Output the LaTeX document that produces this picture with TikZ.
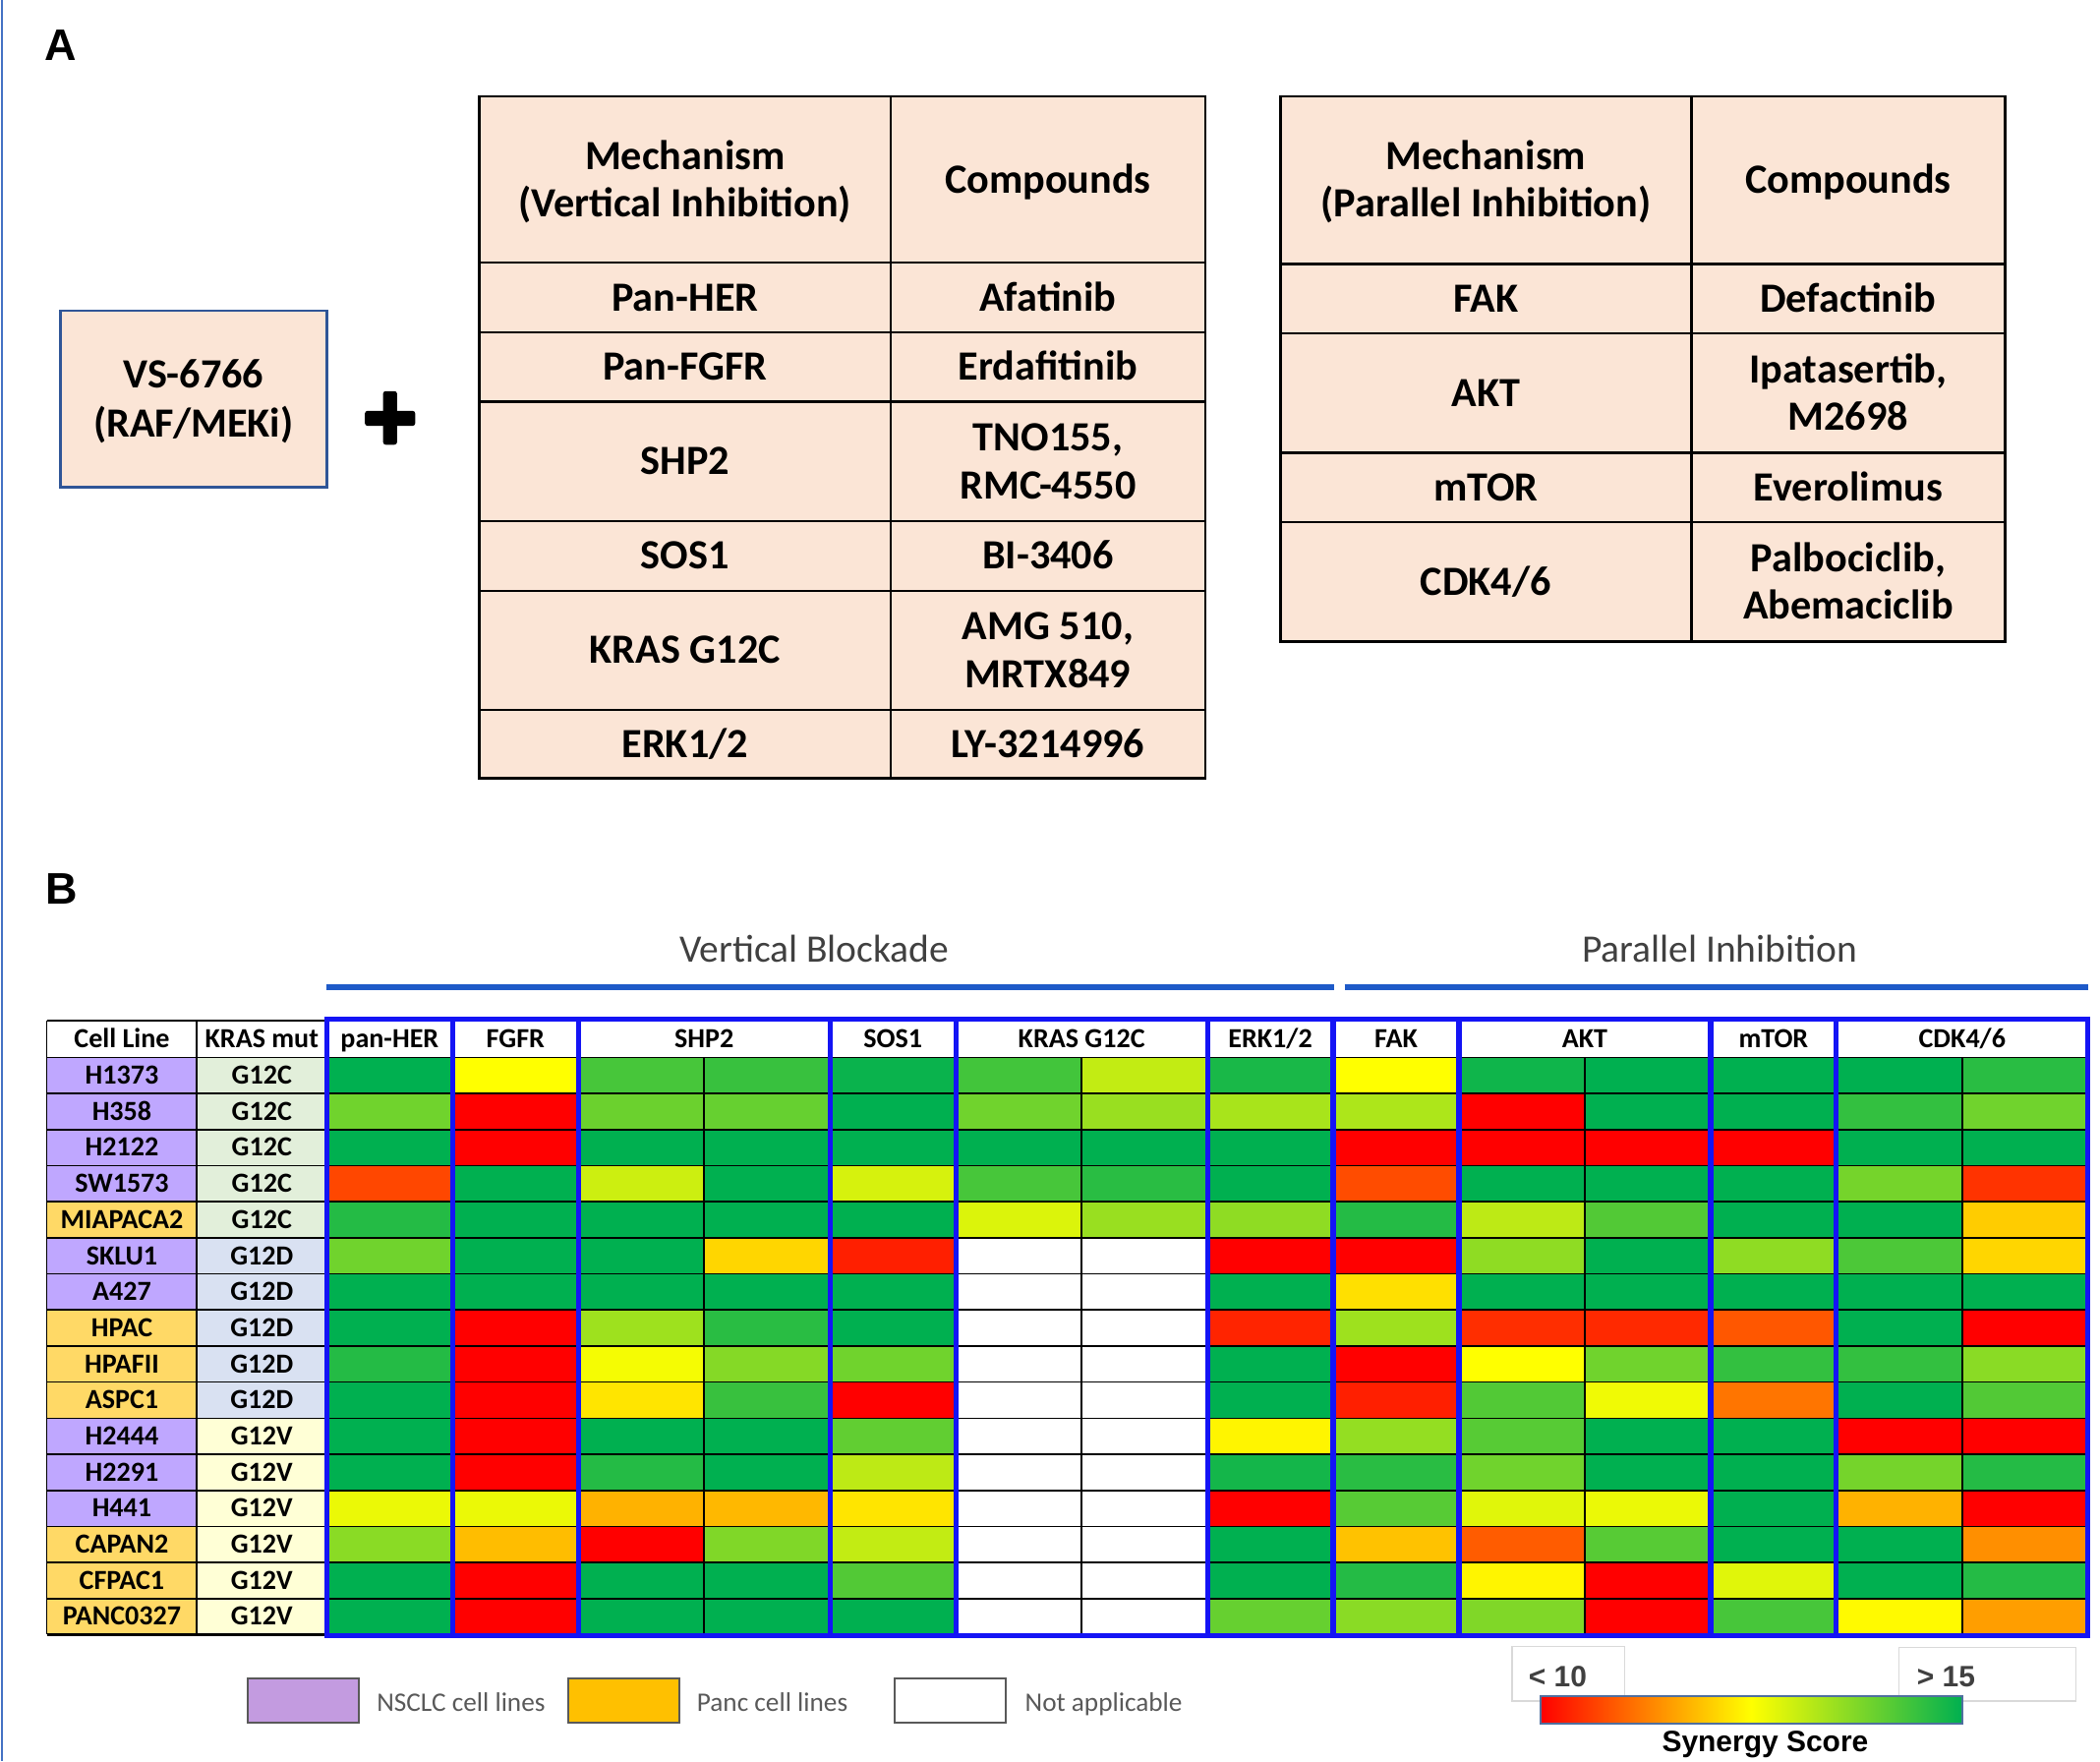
\documentclass[tikz,border=0pt]{standalone}
\usepackage{fontspec}
\setmainfont{Carlito}
\newfontfamily\arialf{Liberation Sans}
\usetikzlibrary{calc}
\definecolor{peach}{HTML}{FBE5D6}
\definecolor{vsblue}{HTML}{2F5597}
\definecolor{edgeblue}{HTML}{4472C4}
\definecolor{hdrblue}{RGB}{30,90,200}
\definecolor{frameblue}{RGB}{20,20,245}
\definecolor{nsclc}{RGB}{191,167,255}
\definecolor{panc}{HTML}{FFD966}
\definecolor{gc}{HTML}{E2EFDA}
\definecolor{gd}{HTML}{D9E1F2}
\definecolor{gv}{HTML}{FFFFD6}
\definecolor{lgpurple}{RGB}{195,155,224}
\definecolor{lgorange}{HTML}{FFC000}
\definecolor{lgborder}{HTML}{595959}
\definecolor{sred}{HTML}{FF0000}
\definecolor{syel}{HTML}{FFFF00}
\definecolor{sgrn}{HTML}{00B050}
\definecolor{txtgray}{HTML}{404040}
\definecolor{lgtxt}{HTML}{595959}
\definecolor{scaleborder}{HTML}{4F6F9F}
\definecolor{boxgray}{HTML}{D9D9D9}
\tikzset{
  tabtxt/.style={font=\bfseries\fontsize{15.5}{17.7}\selectfont, anchor=base, inner sep=0pt},
  hmtxt/.style={font=\bfseries\fontsize{10.3}{12}\selectfont, anchor=base, inner sep=0pt},
  headtxt/.style={font=\fontsize{14.5}{17}\selectfont, text=txtgray, anchor=base, inner sep=0pt},
  lgtext/.style={font=\fontsize{10}{12}\selectfont, text=lgtxt, anchor=base west, inner sep=0pt},
  lgbox/.style={draw=lgborder, line width=0.8pt},
  tabline/.style={draw=black, line width=0.9pt},
  gridline/.style={draw=black, line width=0.6pt},
  groupframe/.style={draw=frameblue, line width=1.9pt},
  headline/.style={draw=hdrblue, line width=2.3pt},
  panellabel/.style={font=\arialf\bfseries\fontsize{16.5}{19}\selectfont, anchor=base west, inner sep=0pt},
  scaletxt/.style={font=\arialf\bfseries\fontsize{11}{13}\selectfont, anchor=base west, inner sep=0pt, text=txtgray},
}
\begin{document}
\begin{tikzpicture}[x=0.5pt,y=-0.5pt]
\useasboundingbox (0,0) rectangle (1568,1315);
% left edge line
\draw[edgeblue, line width=0.8pt] (1.5,0) -- (1.5,1315);
% panel labels
\node[panellabel] (labA) at (33,45) {A};
\node[panellabel] (labB) at (34,675) {B};
% VS-6766 box
\filldraw[fill=peach, draw=vsblue, line width=1pt] (45,232) rectangle (244,364);
\node[tabtxt] (vs1) at (144.5,289.5) {VS-6766};
\node[tabtxt] (vs2) at (144.5,326.5) {(RAF/MEKi)};
% plus sign
\fill[rounded corners=1pt] (272.5,306.7) rectangle (310,318);
\fill[rounded corners=1pt] (286,292) rectangle (296.5,332);
% vertical inhibition table
\fill[peach] (358,72) rectangle (900,581);
\draw[tabline] (358,72) rectangle (900,581);
\draw[tabline] (665,72) -- (665,581);
\foreach \yy in {196,248,300,389,441,530} \draw[tabline] (358,\yy) -- (900,\yy);
\node[tabtxt] (vmh1) at (511.5,126.3) {Mechanism};
\node[tabtxt] (vmh2) at (511.5,161.7) {(Vertical Inhibition)};
\node[tabtxt] (vch) at (782.5,144) {Compounds};
\node[tabtxt] (vm1) at (511.5,232) {Pan-HER};
\node[tabtxt] (vc1) at (782.5,232) {Afatinib};
\node[tabtxt] (vm2) at (511.5,284) {Pan-FGFR};
\node[tabtxt] (vc2) at (782.5,284) {Erdafitinib};
\node[tabtxt] (vm3) at (511.5,354.5) {SHP2};
\node[tabtxt] (vc3a) at (782.5,336.8) {TNO155,};
\node[tabtxt] (vc3b) at (782.5,372.2) {RMC-4550};
\node[tabtxt] (vm4) at (511.5,425) {SOS1};
\node[tabtxt] (vc4) at (782.5,425) {BI-3406};
\node[tabtxt] (vm5) at (511.5,495.5) {KRAS G12C};
\node[tabtxt] (vc5a) at (782.5,477.8) {AMG 510,};
\node[tabtxt] (vc5b) at (782.5,513.2) {MRTX849};
\node[tabtxt] (vm6) at (511.5,565.5) {ERK1/2};
\node[tabtxt] (vc6) at (782.5,565.5) {LY-3214996};
% parallel inhibition table
\fill[peach] (956,72) rectangle (1497,479);
\draw[tabline] (956,72) rectangle (1497,479);
\draw[tabline] (1263,72) -- (1263,479);
\foreach \yy in {197,249,338,390} \draw[tabline] (956,\yy) -- (1497,\yy);
\node[tabtxt] (pmh1) at (1109.5,126.8) {Mechanism};
\node[tabtxt] (pmh2) at (1109.5,162.2) {(Parallel Inhibition)};
\node[tabtxt] (pch) at (1380,144.5) {Compounds};
\node[tabtxt] (pm1) at (1109.5,233) {FAK};
\node[tabtxt] (pc1) at (1380,233) {Defactinib};
\node[tabtxt] (pm2) at (1109.5,303.5) {AKT};
\node[tabtxt] (pc2a) at (1380,285.8) {Ipatasertib,};
\node[tabtxt] (pc2b) at (1380,321.2) {M2698};
\node[tabtxt] (pm3) at (1109.5,374) {mTOR};
\node[tabtxt] (pc3) at (1380,374) {Everolimus};
\node[tabtxt] (pm4) at (1109.5,444.5) {CDK4/6};
\node[tabtxt] (pc4a) at (1380,426.8) {Palbociclib,};
\node[tabtxt] (pc4b) at (1380,462.2) {Abemaciclib};
% panel B headings
\node[headtxt] (vbh) at (608,718) {Vertical Blockade};
\node[headtxt] (pih) at (1284,718) {Parallel Inhibition};
\draw[headline] (244,737) -- (996,737);
\draw[headline] (1004,737) -- (1559,737);
% heatmap cells
\foreach \rowvals [count=\r from 0] in {
 {100,50,86,89,98,87,62,95,50,97,100,100,100,92},
 {78,0,79,80,100,78,70,67,66,0,100,100,90,78},
 {100,0,100,100,100,100,100,100,0,0,0,0,100,100},
 {14,100,60,100,58,86,92,100,15,100,100,100,77,10},
 {93,100,100,100,100,57,70,72,93,63,84,100,100,40},
 {78,100,100,42,6,-1,-1,0,0,72,100,72,85,42},
 {100,100,100,100,100,-1,-1,100,44,100,100,100,100,100},
 {100,0,69,92,100,-1,-1,7,69,9,8,17,100,0},
 {93,0,52,74,78,-1,-1,100,0,50,78,90,90,73},
 {100,0,45,89,0,-1,-1,100,6,84,53,23,100,84},
 {100,0,100,100,81,-1,-1,48,71,83,100,100,0,0},
 {100,0,93,100,63,-1,-1,96,92,78,100,100,77,93},
 {54,54,35,36,45,-1,-1,0,83,56,54,100,35,0},
 {73,37,0,75,62,-1,-1,100,38,18,83,100,100,28},
 {100,0,100,100,84,-1,-1,100,93,48,0,56,100,93},
 {100,0,100,100,100,-1,-1,80,73,75,0,86,49,31}} {
  \foreach \v [count=\c from 0] in \rowvals {
    \pgfmathsetmacro\xa{244+93.93*\c}
    \pgfmathsetmacro\ya{789.5+26.93*\r}
    \ifnum\v<0 \def\cc{white}\else
      \ifnum\v<50 \pgfmathtruncatemacro\pp{2*\v}\edef\cc{syel!\pp!sred}%
      \else \pgfmathtruncatemacro\pp{2*\v-100}\edef\cc{sgrn!\pp!syel}\fi
    \fi
    \fill[fill=\cc] (\xa,\ya) rectangle ++(93.93,26.93);
  }
}
% left columns
\foreach \nm/\cl/\mu/\mc [count=\r from 0] in {
 H1373/nsclc/G12C/gc, H358/nsclc/G12C/gc, H2122/nsclc/G12C/gc, SW1573/nsclc/G12C/gc,
 MIAPACA2/panc/G12C/gc, SKLU1/nsclc/G12D/gd, A427/nsclc/G12D/gd, HPAC/panc/G12D/gd,
 HPAFII/panc/G12D/gd, ASPC1/panc/G12D/gd, H2444/nsclc/G12V/gv, H2291/nsclc/G12V/gv,
 H441/nsclc/G12V/gv, CAPAN2/panc/G12V/gv, CFPAC1/panc/G12V/gv, PANC0327/panc/G12V/gv} {
  \pgfmathsetmacro\ya{789.5+26.93*\r}
  \fill[fill=\cl] (35,\ya) rectangle ++(112,26.93);
  \fill[fill=\mc] (147,\ya) rectangle ++(97,26.93);
  \node[hmtxt] (cl\r) at (91,\ya+19.9) {\nm};
  \node[hmtxt] (km\r) at (195.5,\ya+19.9) {\mu};
}
% grid
\foreach \r in {0,...,16} \draw[gridline] (35,789.5+26.93*\r) -- (1559,789.5+26.93*\r);
\draw[gridline] (35,762) -- (244,762);
\draw[gridline] (35,762) -- (35,1220.4);
\draw[gridline] (147,762) -- (147,1220.4);
\foreach \k in {3,6,10,13} \draw[gridline] (244+93.93*\k,789.5) -- (244+93.93*\k,1220.4);
\draw[line width=1.2pt] (35,1220.4) -- (244,1220.4);
% header labels
\node[hmtxt] (hcl) at (91,782.2) {Cell Line};
\node[hmtxt] (hkm) at (195.5,782.2) {KRAS mut};
\node[hmtxt] (h1) at (244+93.93*0.5,782.2) {pan-HER};
\node[hmtxt] (h2) at (244+93.93*1.5,782.2) {FGFR};
\node[hmtxt] (h3) at (244+93.93*3,782.2) {SHP2};
\node[hmtxt] (h4) at (244+93.93*4.5,782.2) {SOS1};
\node[hmtxt] (h5) at (244+93.93*6,782.2) {KRAS G12C};
\node[hmtxt] (h6) at (244+93.93*7.5,782.2) {ERK1/2};
\node[hmtxt] (h7) at (244+93.93*8.5,782.2) {FAK};
\node[hmtxt] (h8) at (244+93.93*10,782.2) {AKT};
\node[hmtxt] (h9) at (244+93.93*11.5,782.2) {mTOR};
\node[hmtxt] (h10) at (244+93.93*13,782.2) {CDK4/6};
% blue group frames
\foreach \a/\b in {0/1,1/2,2/4,4/5,5/7,7/8,8/9,9/11,11/12,12/14}
  \draw[groupframe] (244+93.93*\a,761) rectangle (244+93.93*\b,1221);
% legend
\filldraw[lgbox, fill=lgpurple] (185,1253) rectangle (268,1286);
\node[lgtext] (lg1) at (281,1277.5) {NSCLC cell lines};
\filldraw[lgbox, fill=lgorange] (424,1253) rectangle (507,1286);
\node[lgtext] (lg2) at (520,1277.5) {Panc cell lines};
\filldraw[lgbox, fill=white] (668,1253) rectangle (751,1286);
\node[lgtext] (lg3) at (765,1277.5) {Not applicable};
% colour scale
\draw[draw=boxgray, line width=0.5pt] (1129,1229) rectangle (1213,1270);
\draw[draw=boxgray, line width=0.5pt] (1418,1230) rectangle (1550,1270);
\node[scaletxt] (lo) at (1141,1259) {< 10};
\node[scaletxt] (hi) at (1431,1259) {> 15};
\shade[left color=sred, right color=sgrn, middle color=syel] (1150,1266) rectangle (1465,1287);
\draw[draw=scaleborder, line width=0.8pt] (1150,1266) rectangle (1465,1287);
\node[font=\arialf\bfseries\fontsize{11}{13}\selectfont, anchor=base, inner sep=0pt] (syn) at (1318,1308) {Synergy Score};
\end{tikzpicture}
\end{document}
